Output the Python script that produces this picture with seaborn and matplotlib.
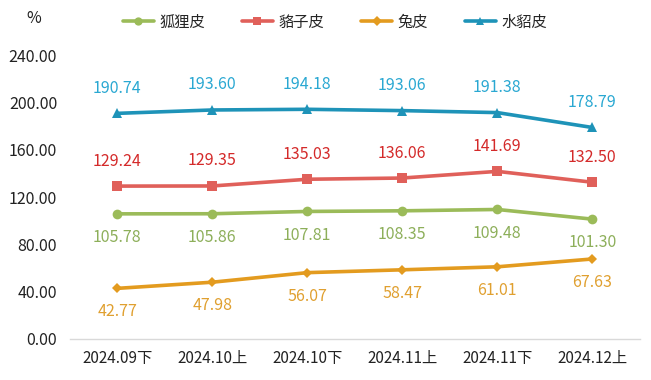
import pandas as pd
import matplotlib.pyplot as plt
import seaborn as sns

sns.set_style("white")
plt.rcParams["font.family"] = ["Noto Sans CJK SC", "DejaVu Sans"]

periods = ["2024.09下", "2024.10上", "2024.10下", "2024.11上", "2024.11下", "2024.12上"]
fox = [105.78, 105.86, 107.81, 108.35, 109.48, 101.30]
raccoon = [129.24, 129.35, 135.03, 136.06, 141.69, 132.50]
rabbit = [42.77, 47.98, 56.07, 58.47, 61.01, 67.63]
mink = [190.74, 193.60, 194.18, 193.06, 191.38, 178.79]

series_names = ["狐狸皮", "貉子皮", "兔皮", "水貂皮"]
series_vals = [fox, raccoon, rabbit, mink]
line_colors = ["#9BBB59", "#E0605A", "#E39B1F", "#1E93B8"]
label_colors = ["#8DAF5A", "#D42A2A", "#E0A030", "#2AA8D2"]
markers = ["o", "s", "D", "^"]
msizes = [7, 7, 5.5, 7.5]
offsets = [-17, 18, -17, 18]  # points; negative = below

rows = []
for name, vals in zip(series_names, series_vals):
    for p, v in zip(periods, vals):
        rows.append({"period": p, "value": v, "series": name})
df = pd.DataFrame(rows)
df["x"] = df["period"].map({p: i for i, p in enumerate(periods)})

fig = plt.figure(figsize=(6.51, 3.80), dpi=100)
ax = fig.add_axes([0.107, 0.108, 0.876, 0.747])

sns.lineplot(data=df, x="x", y="value", hue="series", style="series",
             hue_order=series_names, style_order=series_names,
             palette=dict(zip(series_names, line_colors)),
             markers=dict(zip(series_names, markers)), dashes=False,
             linewidth=2.6, markeredgewidth=0, ax=ax, legend=False)

for line, ms in zip(ax.get_lines(), msizes):
    line.set_markersize(ms)

for name, vals, c, off in zip(series_names, series_vals, label_colors, offsets):
    for i, v in enumerate(vals):
        ax.annotate(f"{v:.2f}", (i, v), xytext=(0, off), textcoords="offset points",
                    ha="center", va="center", color=c, fontsize=11.5)

ax.set_xlim(-0.5, len(periods) - 0.5)
ax.set_ylim(0, 240)
ax.set_yticks(range(0, 241, 40))
ax.set_yticklabels([f"{t:.2f}" for t in range(0, 241, 40)])
ax.set_xticks(range(len(periods)))
ax.set_xticklabels(periods)
ax.tick_params(axis="both", length=0, labelsize=11, colors="#222222", pad=8)
ax.tick_params(axis="y", labelsize=11.5, pad=9)
ax.set_xlabel("")
ax.set_ylabel("")
for s in ["top", "right", "left"]:
    ax.spines[s].set_visible(False)
ax.spines["bottom"].set_color("#D9D9D9")
ax.spines["bottom"].set_linewidth(1)

fig.text(0.04, 0.952, "%", fontsize=11.5, ha="left", va="center", color="#222222")

handles = [plt.Line2D([], [], color=c, marker=m, markersize=ms * 0.85, markeredgewidth=0,
                      linewidth=2.6) for c, m, ms in zip(line_colors, markers, msizes)]
fig.legend(handles, series_names, loc="center", bbox_to_anchor=(0.515, 0.942), ncol=4,
           frameon=False, fontsize=11, handlelength=2.0, columnspacing=2.4,
           handletextpad=0.4)

fig.savefig("out.png", dpi=100)
